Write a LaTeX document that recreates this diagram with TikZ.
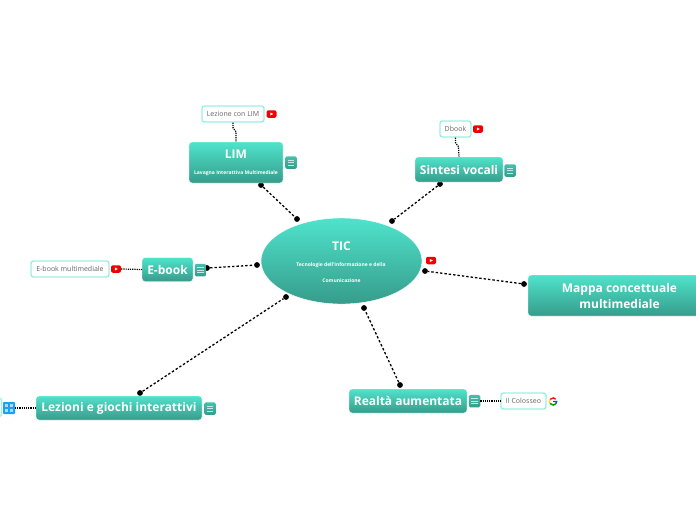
\documentclass[tikz,border=0pt]{standalone}
\usepackage{fontspec}
\setmainfont{Open Sans}
\usetikzlibrary{shapes.geometric,calc}
\definecolor{tealtop}{HTML}{4FE3CB}
\definecolor{tealbot}{HTML}{369C8B}
\definecolor{leafline}{HTML}{9BEFE2}
\definecolor{leaftext}{HTML}{666666}
\definecolor{ytred}{HTML}{F00000}
\definecolor{pzblue}{HTML}{1AA0F5}
\definecolor{pzlight}{HTML}{A8DDFB}
\tikzset{
  topic/.style={rounded corners=3pt,top color=tealtop,bottom color=tealbot,draw=white,line width=.4pt,text=white,font=\bfseries,inner sep=0pt,align=center,anchor=center},
  leaf/.style={rounded corners=2.5pt,fill=white,draw=leafline,line width=1.4pt,text=leaftext,font=\fontsize{7}{8}\selectfont,inner sep=0pt,anchor=center},
  dotnode/.style={circle,fill=black,inner sep=0pt,minimum size=5.8pt},
  link/.style={line width=1.3pt,dash pattern=on 2.4pt off 2pt},
  sublink/.style={line width=1.2pt,dash pattern=on 1.2pt off 1pt},
  notebox/.style={rounded corners=1.5pt,top color=tealtop!85!black,bottom color=tealbot,inner sep=0pt,minimum width=11.5pt,minimum height=12.5pt,anchor=center},
  yt/.style={rounded corners=2pt,fill=ytred,inner sep=0pt,minimum width=10pt,minimum height=7.5pt,anchor=center},
}
\newcommand{\notemark}[3]{\node[notebox] (#1) at (#2,#3) {};
  \foreach \dy in {-2.5,0,2.5}{\draw[white!80!teal,line width=.6pt] ($(#1)+(-3.2,\dy)$)--($(#1)+(3.2,\dy)$);}}
\newcommand{\ytmark}[3]{\node[yt] (#1) at (#2,#3) {};
  \fill[white] ($(#1)+(-1.1,1.5)$)--($(#1)+(1.8,0)$)--($(#1)+(-1.1,-1.5)$)--cycle;}
\begin{document}
\begin{tikzpicture}[x=1pt,y=-1pt]
\useasboundingbox (0,0) rectangle (696,520);
% main links
\node[dotnode] (d1a) at (261,185) {};
\node[dotnode] (d1b) at (297,219) {};
\node[dotnode] (d2a) at (440,184) {};
\node[dotnode] (d2b) at (392,221) {};
\node[dotnode] (d3a) at (207,268) {};
\node[dotnode] (d3b) at (257,265) {};
\node[dotnode] (d4a) at (140,393) {};
\node[dotnode] (d4b) at (286,297) {};
\node[dotnode] (d5a) at (400,385) {};
\node[dotnode] (d5b) at (364,308) {};
\node[dotnode] (d6a) at (524,284) {};
\node[dotnode] (d6b) at (425,271) {};
\draw[link] (d1a)--(d1b);
\draw[link] (d2a)--(d2b);
\draw[link] (d3a)--(d3b);
\draw[link] (d4a)--(d4b);
\draw[link] (d5a)--(d5b);
\draw[link] (d6a)--(d6b);
% centre
\node[ellipse,top color=tealtop,bottom color=tealbot,draw=white,line width=.4pt,minimum width=161pt,minimum height=86pt,inner sep=0pt] (tic) at (341.5,261) {};
\node[text=white,font=\bfseries\fontsize{12}{13}\selectfont,inner sep=0pt] (ticT) at (341.5,246) {TIC};
\node[text=white,font=\bfseries\fontsize{5}{6}\selectfont,inner sep=0pt] (ticA) at (341,265) {Tecnologie dell'Informazione e della};
\node[text=white,font=\bfseries\fontsize{5}{6}\selectfont,inner sep=0pt] (ticB) at (341.5,281) {Comunicazione};
\ytmark{ytTic}{431}{260.5}
% LIM
\node[topic,minimum width=94pt,minimum height=41pt] (lim) at (236,162.5) {};
\node[text=white,font=\bfseries\fontsize{12}{13}\selectfont,inner sep=0pt] (limT) at (236,154.5) {LIM};
\node[text=white,font=\bfseries\fontsize{5}{6}\selectfont,inner sep=0pt] (limS) at (236,173) {Lavagna Interattiva Multimediale};
\notemark{nLim}{291}{162.5}
\node[leaf,minimum width=62pt,minimum height=16pt] (lLim) at (233,114) {Lezione con LIM};
\ytmark{ytLim}{271.5}{114}
\draw[sublink] (lLim.south)--++(0,5)--++(3,4)--(lim.north-|236,142);
% Sintesi
\node[topic,minimum width=88pt,minimum height=25pt,font=\bfseries\fontsize{12}{13}\selectfont] (sin) at (459,169.5) {Sintesi vocali};
\notemark{nSin}{510}{170.5}
\node[leaf,minimum width=31pt,minimum height=16pt] (lSin) at (455.5,129) {Dbook};
\ytmark{ytSin}{478}{129}
\draw[sublink] (lSin.south)--++(0,5)--++(3,4)--(sin.north-|459,157);
% E-book
\node[topic,minimum width=51pt,minimum height=24pt,font=\bfseries\fontsize{12}{13}\selectfont] (ebk) at (167.5,269.5) {E-book};
\notemark{nEbk}{200.5}{270}
\node[leaf,minimum width=78pt,minimum height=16pt] (lEbk) at (70,269) {E-book multimediale};
\ytmark{ytEbk}{116}{269}
\draw[sublink] (ytEbk.east)--(ebk.west);
% Lezioni
\node[topic,minimum width=166pt,minimum height=24pt,font=\bfseries\fontsize{12}{13}\selectfont] (lez) at (119,408) {Lezioni e giochi interattivi};
\notemark{nLez}{210}{408.5}
\draw[leafline,line width=1.2pt,rounded corners=1pt] (0,398.5)--(1.5,398.5)--(1.5,416)--(0,416);
\coordinate (pz) at (9,408);
\fill[pzblue,rounded corners=.8pt] (3,402) rectangle (15,414);
\foreach \a/\b in {5/404,10/404,5/409,10/409}{\fill[pzlight] (\a,\b) rectangle ++(3,3);}
\draw[sublink] (pz)++(6,0)--(lez.west);
% Realta
\node[topic,minimum width=118pt,minimum height=24pt,font=\bfseries\fontsize{12}{13}\selectfont] (rea) at (408,401) {Realtà aumentata};
\notemark{nRea}{474.5}{401}
\node[leaf,minimum width=45pt,minimum height=16pt] (lRea) at (523.5,401) {Il Colosseo};
\draw[sublink] (nRea.east)--(lRea.west);
\begin{scope}[shift={(553,401.5)},x=1pt,y=1pt,line width=1.4pt]
\draw[red!85!orange] (145:3.6) arc[start angle=145,end angle=40,radius=3.6];
\draw[yellow!80!orange] (145:3.6) arc[start angle=145,end angle=215,radius=3.6];
\draw[green!60!black] (215:3.6) arc[start angle=215,end angle=320,radius=3.6];
\draw[blue!70!cyan] (320:3.6) arc[start angle=320,end angle=360,radius=3.6] -- (0,0);
\end{scope}
% Mappa
\node[topic,minimum width=176pt,minimum height=41pt] (map) at (616,295.5) {};
\node[text=white,font=\bfseries\fontsize{12}{16.5}\selectfont,align=center,inner sep=0pt] (mapT) at (619.5,296) {Mappa concettuale\\multimediale};
\end{tikzpicture}
\end{document}
